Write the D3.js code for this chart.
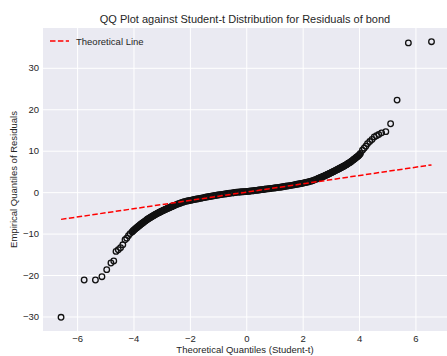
<!DOCTYPE html>
<html lang="en">

<head>
    <meta charset="UTF-8">
    <style type="text/css">
        body {
            margin: 0;
            background: #fff;
        }

        svg text {
            font-family: "Liberation Sans", Arial, sans-serif;
            fill: #262626;
        }

        .grid line {
            stroke: #fff;
            stroke-width: 1;
        }

        .grid path,
        .axis path {
            display: none;
        }

        .axis text {
            font-size: 9.5px;
        }

        .pt {
            fill: none;
            stroke: #111;
            stroke-width: 1.3;
        }
    </style>
</head>

<body>
    <div class='main'></div>

    <script src="https://cdn.jsdelivr.net/npm/d3@7"></script>
    <script type="text/javascript">

        // tails of the QQ plot (sparse points)
        var tailX = [-6.57, -5.75, -5.35, -5.12, -4.95, -4.80, -4.70, -4.62, -4.54, -4.46, -4.38, -4.30, -4.24, -4.18, -4.12,
            4.12, 4.18, 4.24, 4.30, 4.38, 4.46, 4.54, 4.62, 4.70, 4.80, 4.95, 5.12, 5.35, 5.75, 6.57];
        var tailY = [-30.2, -21.2, -21.2, -20.4, -18.7, -17.1, -16.6, -14.3, -13.9, -13.4, -12.7, -11.5, -11.1, -10.5, -10.0,
            10.1, 10.6, 11.1, 11.7, 12.2, 12.7, 13.3, 13.6, 13.9, 14.3, 14.6, 16.5, 22.2, 36.0, 36.3];

        // dense body of the QQ plot
        var bodyX = [-4.05, -4.00, -3.95, -3.90, -3.85, -3.80, -3.75, -3.70, -3.65, -3.60, -3.55, -3.50, -3.45, -3.40, -3.35,
            -3.30, -3.25, -3.20, -3.15, -3.10, -3.05, -3.00, -2.95, -2.90, -2.85, -2.80, -2.75, -2.70, -2.65, -2.60,
            -2.55, -2.50, -2.45, -2.40, -2.35, -2.30, -2.25, -2.20, -2.15, -2.10, -2.05, -2.00, -1.95, -1.90, -1.85,
            -1.80, -1.75, -1.70, -1.65, -1.60, -1.55, -1.50, -1.45, -1.40, -1.35, -1.30, -1.25, -1.20, -1.15, -1.10,
            -1.05, -1.00, -0.95, -0.90, -0.85, -0.80, -0.75, -0.70, -0.65, -0.60, -0.55, -0.50, -0.45, -0.40, -0.35,
            -0.30, -0.25, -0.20, -0.15, -0.10, -0.05, 0.00, 0.05, 0.10, 0.15, 0.20, 0.25, 0.30, 0.35, 0.40,
            0.45, 0.50, 0.55, 0.60, 0.65, 0.70, 0.75, 0.80, 0.85, 0.90, 0.95, 1.00, 1.05, 1.10, 1.15,
            1.20, 1.25, 1.30, 1.35, 1.40, 1.45, 1.50, 1.55, 1.60, 1.65, 1.70, 1.75, 1.80, 1.85, 1.90,
            1.95, 2.00, 2.05, 2.10, 2.15, 2.20, 2.25, 2.30, 2.35, 2.40, 2.45, 2.50, 2.55, 2.60, 2.65,
            2.70, 2.75, 2.80, 2.85, 2.90, 2.95, 3.00, 3.05, 3.10, 3.15, 3.20, 3.25, 3.30, 3.35, 3.40,
            3.45, 3.50, 3.55, 3.60, 3.65, 3.70, 3.75, 3.80, 3.85, 3.90, 3.95, 4.00, 4.05];
        var bodyY = [-9.60, -9.25, -8.95, -8.65, -8.38, -8.10, -7.82, -7.55, -7.30, -7.05, -6.80, -6.55, -6.32, -6.10, -5.90,
            -5.70, -5.50, -5.30, -5.12, -4.95, -4.77, -4.60, -4.43, -4.27, -4.11, -3.95, -3.80, -3.65, -3.50, -3.35,
            -3.21, -3.07, -2.93, -2.80, -2.67, -2.55, -2.42, -2.30, -2.22, -2.15, -2.07, -2.00, -1.93, -1.86, -1.79,
            -1.72, -1.65, -1.58, -1.51, -1.45, -1.38, -1.32, -1.25, -1.19, -1.12, -1.06, -1.00, -0.94, -0.88, -0.82,
            -0.76, -0.70, -0.64, -0.59, -0.53, -0.48, -0.43, -0.38, -0.33, -0.28, -0.23, -0.18, -0.13, -0.09, -0.04,
            0.00, 0.03, 0.05, 0.08, 0.10, 0.12, 0.15, 0.18, 0.22, 0.26, 0.30, 0.34, 0.38, 0.43, 0.47,
            0.52, 0.56, 0.61, 0.65, 0.70, 0.74, 0.79, 0.83, 0.88, 0.92, 0.97, 1.01, 1.06, 1.10, 1.15,
            1.20, 1.25, 1.30, 1.36, 1.41, 1.47, 1.52, 1.58, 1.64, 1.70, 1.76, 1.83, 1.89, 1.96, 2.02,
            2.09, 2.16, 2.24, 2.31, 2.39, 2.47, 2.56, 2.65, 2.77, 2.90, 3.02, 3.15, 3.28, 3.42, 3.56,
            3.70, 3.85, 4.00, 4.16, 4.32, 4.48, 4.65, 4.82, 5.00, 5.17, 5.35, 5.52, 5.70, 5.87, 6.05,
            6.23, 6.42, 6.63, 6.85, 7.07, 7.30, 7.55, 7.80, 8.07, 8.35, 8.62, 8.90, 9.35];

        // extra points where the body is steep (left and right shoulders)
        var steepX = [-4.025, -3.975, -3.925, -3.875, -3.825, -3.775, -3.725, -3.675, -3.625, -3.575,
            -3.525, -3.475, -3.425, -3.375, -3.325, -3.275, -3.225, -3.175, -3.125, -3.075,
            -3.025, -2.975, -2.925, -2.875, -2.825, -2.775, -2.725, -2.675, -2.625, -2.575,
            2.575, 2.625, 2.675, 2.725, 2.775, 2.825, 2.875, 2.925, 2.975, 3.025,
            3.075, 3.125, 3.175, 3.225, 3.275, 3.325, 3.375, 3.425, 3.475, 3.525,
            3.575, 3.625, 3.675, 3.725, 3.775, 3.825, 3.875, 3.925, 3.975, 4.025];
        var steepY = [-9.42, -9.10, -8.80, -8.51, -8.24, -7.96, -7.68, -7.42, -7.17, -6.92,
            -6.67, -6.43, -6.21, -6.00, -5.80, -5.60, -5.40, -5.21, -5.03, -4.86,
            -4.68, -4.51, -4.35, -4.19, -4.03, -3.87, -3.72, -3.57, -3.42, -3.28,
            3.35, 3.49, 3.63, 3.77, 3.92, 4.08, 4.24, 4.40, 4.56, 4.73,
            4.91, 5.08, 5.26, 5.43, 5.61, 5.78, 5.96, 6.14, 6.32, 6.52,
            6.74, 6.96, 7.18, 7.42, 7.67, 7.93, 8.21, 8.48, 8.76, 9.12];

        // theoretical line end points
        var lineX = [-6.57, 6.57];
        var lineY = [-6.57, 6.57];

        var xTicks = [-6, -4, -2, 0, 2, 4, 6];
        var yTicks = [-30, -20, -10, 0, 10, 20, 30];

        var W = 447, H = 356;
        var plot = { left: 43, top: 28, right: 447, bottom: 331 };

        var svg = d3.select(".main").append("svg")
            .attr("width", W)
            .attr("height", H);

        var x = d3.scaleLinear().domain([-7.21, 7.12]).range([plot.left, plot.right]);
        var y = d3.scaleLinear().domain([-33.5, 39.6]).range([plot.bottom, plot.top]);

        svg.append("rect")
            .attr("x", plot.left)
            .attr("y", plot.top)
            .attr("width", plot.right - plot.left)
            .attr("height", plot.bottom - plot.top)
            .attr("fill", "#eaeaf2");

        // grid
        svg.append("g")
            .attr("class", "grid")
            .attr("transform", "translate(0," + plot.bottom + ")")
            .call(d3.axisBottom(x).tickValues(xTicks).tickSize(-(plot.bottom - plot.top)).tickFormat(""));
        svg.append("g")
            .attr("class", "grid")
            .attr("transform", "translate(" + plot.left + ",0)")
            .call(d3.axisLeft(y).tickValues(yTicks).tickSize(-(plot.right - plot.left)).tickFormat(""));

        // axes (labels only)
        svg.append("g")
            .attr("class", "axis")
            .attr("transform", "translate(0," + plot.bottom + ")")
            .call(d3.axisBottom(x).tickValues(xTicks).tickSize(0).tickPadding(4.5))
            .call(function (g) { g.selectAll(".tick line").remove(); });
        svg.append("g")
            .attr("class", "axis")
            .attr("transform", "translate(" + plot.left + ",0)")
            .call(d3.axisLeft(y).tickValues(yTicks).tickSize(0).tickPadding(4))
            .call(function (g) { g.selectAll(".tick line").remove(); });

        var pts = d3.zip(bodyX.concat(steepX, tailX), bodyY.concat(steepY, tailY));

        svg.append("g").selectAll("circle")
            .data(pts)
            .enter().append("circle")
            .attr("class", "pt")
            .attr("cx", function (d) { return x(d[0]); })
            .attr("cy", function (d) { return y(d[1]); })
            .attr("r", 2.8);

        var line = d3.line()
            .x(function (d) { return x(d[0]); })
            .y(function (d) { return y(d[1]); });

        svg.append("path")
            .attr("d", line(d3.zip(lineX, lineY)))
            .style("stroke", "#ff0000")
            .style("stroke-width", 1.5)
            .style("stroke-dasharray", "5.5,2.4")
            .style("fill", "none");

        // legend
        svg.append("line")
            .attr("x1", 50).attr("x2", 69)
            .attr("y1", 41).attr("y2", 41)
            .style("stroke", "#ff0000")
            .style("stroke-width", 1.5)
            .style("stroke-dasharray", "5.5,2.4");
        svg.append("text")
            .attr("x", 76)
            .attr("y", 44.5)
            .attr("font-size", "9.5px")
            .text("Theoretical Line");

        // title and axis labels
        svg.append("text")
            .attr("x", (plot.left + plot.right) / 2)
            .attr("y", 23)
            .attr("font-size", "11px")
            .style("text-anchor", "middle")
            .text("QQ Plot against Student-t Distribution for Residuals of bond");

        svg.append("text")
            .attr("x", (plot.left + plot.right) / 2)
            .attr("y", 353)
            .attr("font-size", "9.5px")
            .style("text-anchor", "middle")
            .text("Theoretical Quantiles (Student-t)");

        svg.append("text")
            .attr("transform", "translate(17," + ((plot.top + plot.bottom) / 2) + ") rotate(-90)")
            .attr("font-size", "9.5px")
            .style("text-anchor", "middle")
            .text("Empirical Quantiles of Residuals");

    </script>
</body>

</html>
